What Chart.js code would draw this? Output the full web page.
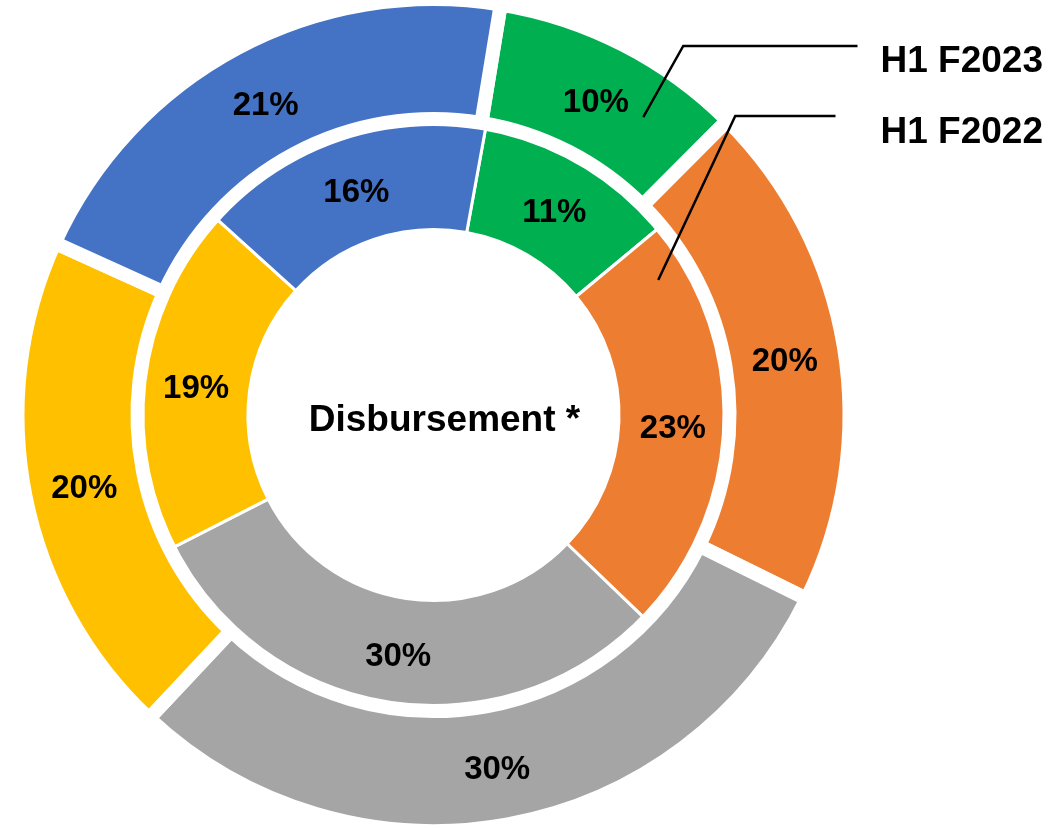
<!DOCTYPE html>
<html>
<head>
<meta charset="utf-8">
<script src="https://cdn.jsdelivr.net/npm/chart.js"></script>
<style>
  html, body { margin: 0; padding: 0; background: #fff; }
  #wrap { width: 1063px; height: 828px; position: relative; }
</style>
</head>
<body>
<div id="wrap"><canvas id="chart"></canvas></div>
<script>
// data (percent of disbursement)
const categories = ['Category 1', 'Category 2', 'Category 3', 'Category 4', 'Category 5'];
const seriesNames = ['H1 F2023', 'H1 F2022'];
const f2023Values = [10, 20, 30, 20, 21];
const f2022Values = [11, 23, 30, 19, 16];
const sliceColours = ['#00B050', '#ED7D31', '#A5A5A5', '#FFC000', '#4472C4'];
const centerTitle = 'Disbursement *';

const FONT = '"Liberation Sans", Arial, sans-serif';

// percent labels on every slice + centre title
const sliceLabels = {
  id: 'sliceLabels',
  afterDatasetsDraw(chart) {
    const ctx = chart.ctx;
    ctx.save();
    ctx.fillStyle = '#000';
    ctx.textAlign = 'center';
    ctx.textBaseline = 'middle';
    ctx.font = 'bold 33px ' + FONT;
    [0, 2].forEach(di => {
      const meta = chart.getDatasetMeta(di);
      const values = chart.data.datasets[di].data;
      meta.data.forEach((arc, i) => {
        const p = arc.tooltipPosition();
        ctx.fillText(values[i] + '%', p.x, p.y + 5);
      });
    });
    const c = chart.getDatasetMeta(0).data[0];
    ctx.font = 'bold 37px ' + FONT;
    ctx.fillText(centerTitle, c.x + 11, c.y + 6);
    ctx.restore();
  }
};

// series names with leader lines pointing into each ring
const seriesCallouts = {
  id: 'seriesCallouts',
  afterDraw(chart) {
    const ctx = chart.ctx;
    const outer = chart.getDatasetMeta(0).data[0];
    const inner = chart.getDatasetMeta(2).data[1];
    const cx = outer.x, cy = outer.y;
    const textX = cx + 447;

    const pointIn = (arc, fa, fr) => {
      const a = arc.startAngle + (arc.endAngle - arc.startAngle) * fa;
      const r = arc.innerRadius + (arc.outerRadius - arc.innerRadius) * fr;
      return { x: arc.x + Math.cos(a) * r, y: arc.y + Math.sin(a) * r };
    };

    const callouts = [
      { name: seriesNames[0], textY: cy - 355, lineY: cy - 369, lineEnd: textX - 23, anchor: pointIn(outer, 0.725, 0.57), dx: 40 },
      { name: seriesNames[1], textY: cy - 284, lineY: cy - 299, lineEnd: textX - 45, anchor: pointIn(inner, 0.104, 0.71), dx: 77 }
    ];

    ctx.save();
    ctx.strokeStyle = '#000';
    ctx.lineWidth = 2.5;
    ctx.fillStyle = '#000';
    ctx.font = 'bold 37px ' + FONT;
    ctx.textAlign = 'left';
    ctx.textBaseline = 'middle';
    callouts.forEach(c => {
      ctx.beginPath();
      ctx.moveTo(c.anchor.x, c.anchor.y);
      ctx.lineTo(c.anchor.x + c.dx, c.lineY);
      ctx.lineTo(c.lineEnd, c.lineY);
      ctx.stroke();
      ctx.fillText(c.name, textX, c.textY + 2);
    });
    ctx.restore();
  }
};

new Chart(document.getElementById('chart'), {
  type: 'doughnut',
  data: {
    labels: categories,
    datasets: [
      {
        label: seriesNames[0],
        data: f2023Values,
        backgroundColor: sliceColours,
        borderColor: '#fff',
        borderWidth: 14,
        rotation: 9.3,
        weight: 120
      },
      {
        // white gap between the two rings
        label: 'gap',
        data: [1],
        backgroundColor: 'rgba(0,0,0,0)',
        borderWidth: 0,
        weight: 2.5
      },
      {
        label: seriesNames[1],
        data: f2022Values,
        backgroundColor: sliceColours,
        borderColor: '#fff',
        borderWidth: 3,
        rotation: 10.3,
        weight: 108
      }
    ]
  },
  options: {
    responsive: true,
    maintainAspectRatio: false,
    animation: false,
    events: [],
    radius: 416,
    cutout: '44.6%',
    layout: { padding: { left: 0, right: 196, top: 2, bottom: 0 } },
    plugins: {
      legend: { display: false },
      tooltip: { enabled: false }
    }
  },
  plugins: [sliceLabels, seriesCallouts]
});
</script>
</body>
</html>
